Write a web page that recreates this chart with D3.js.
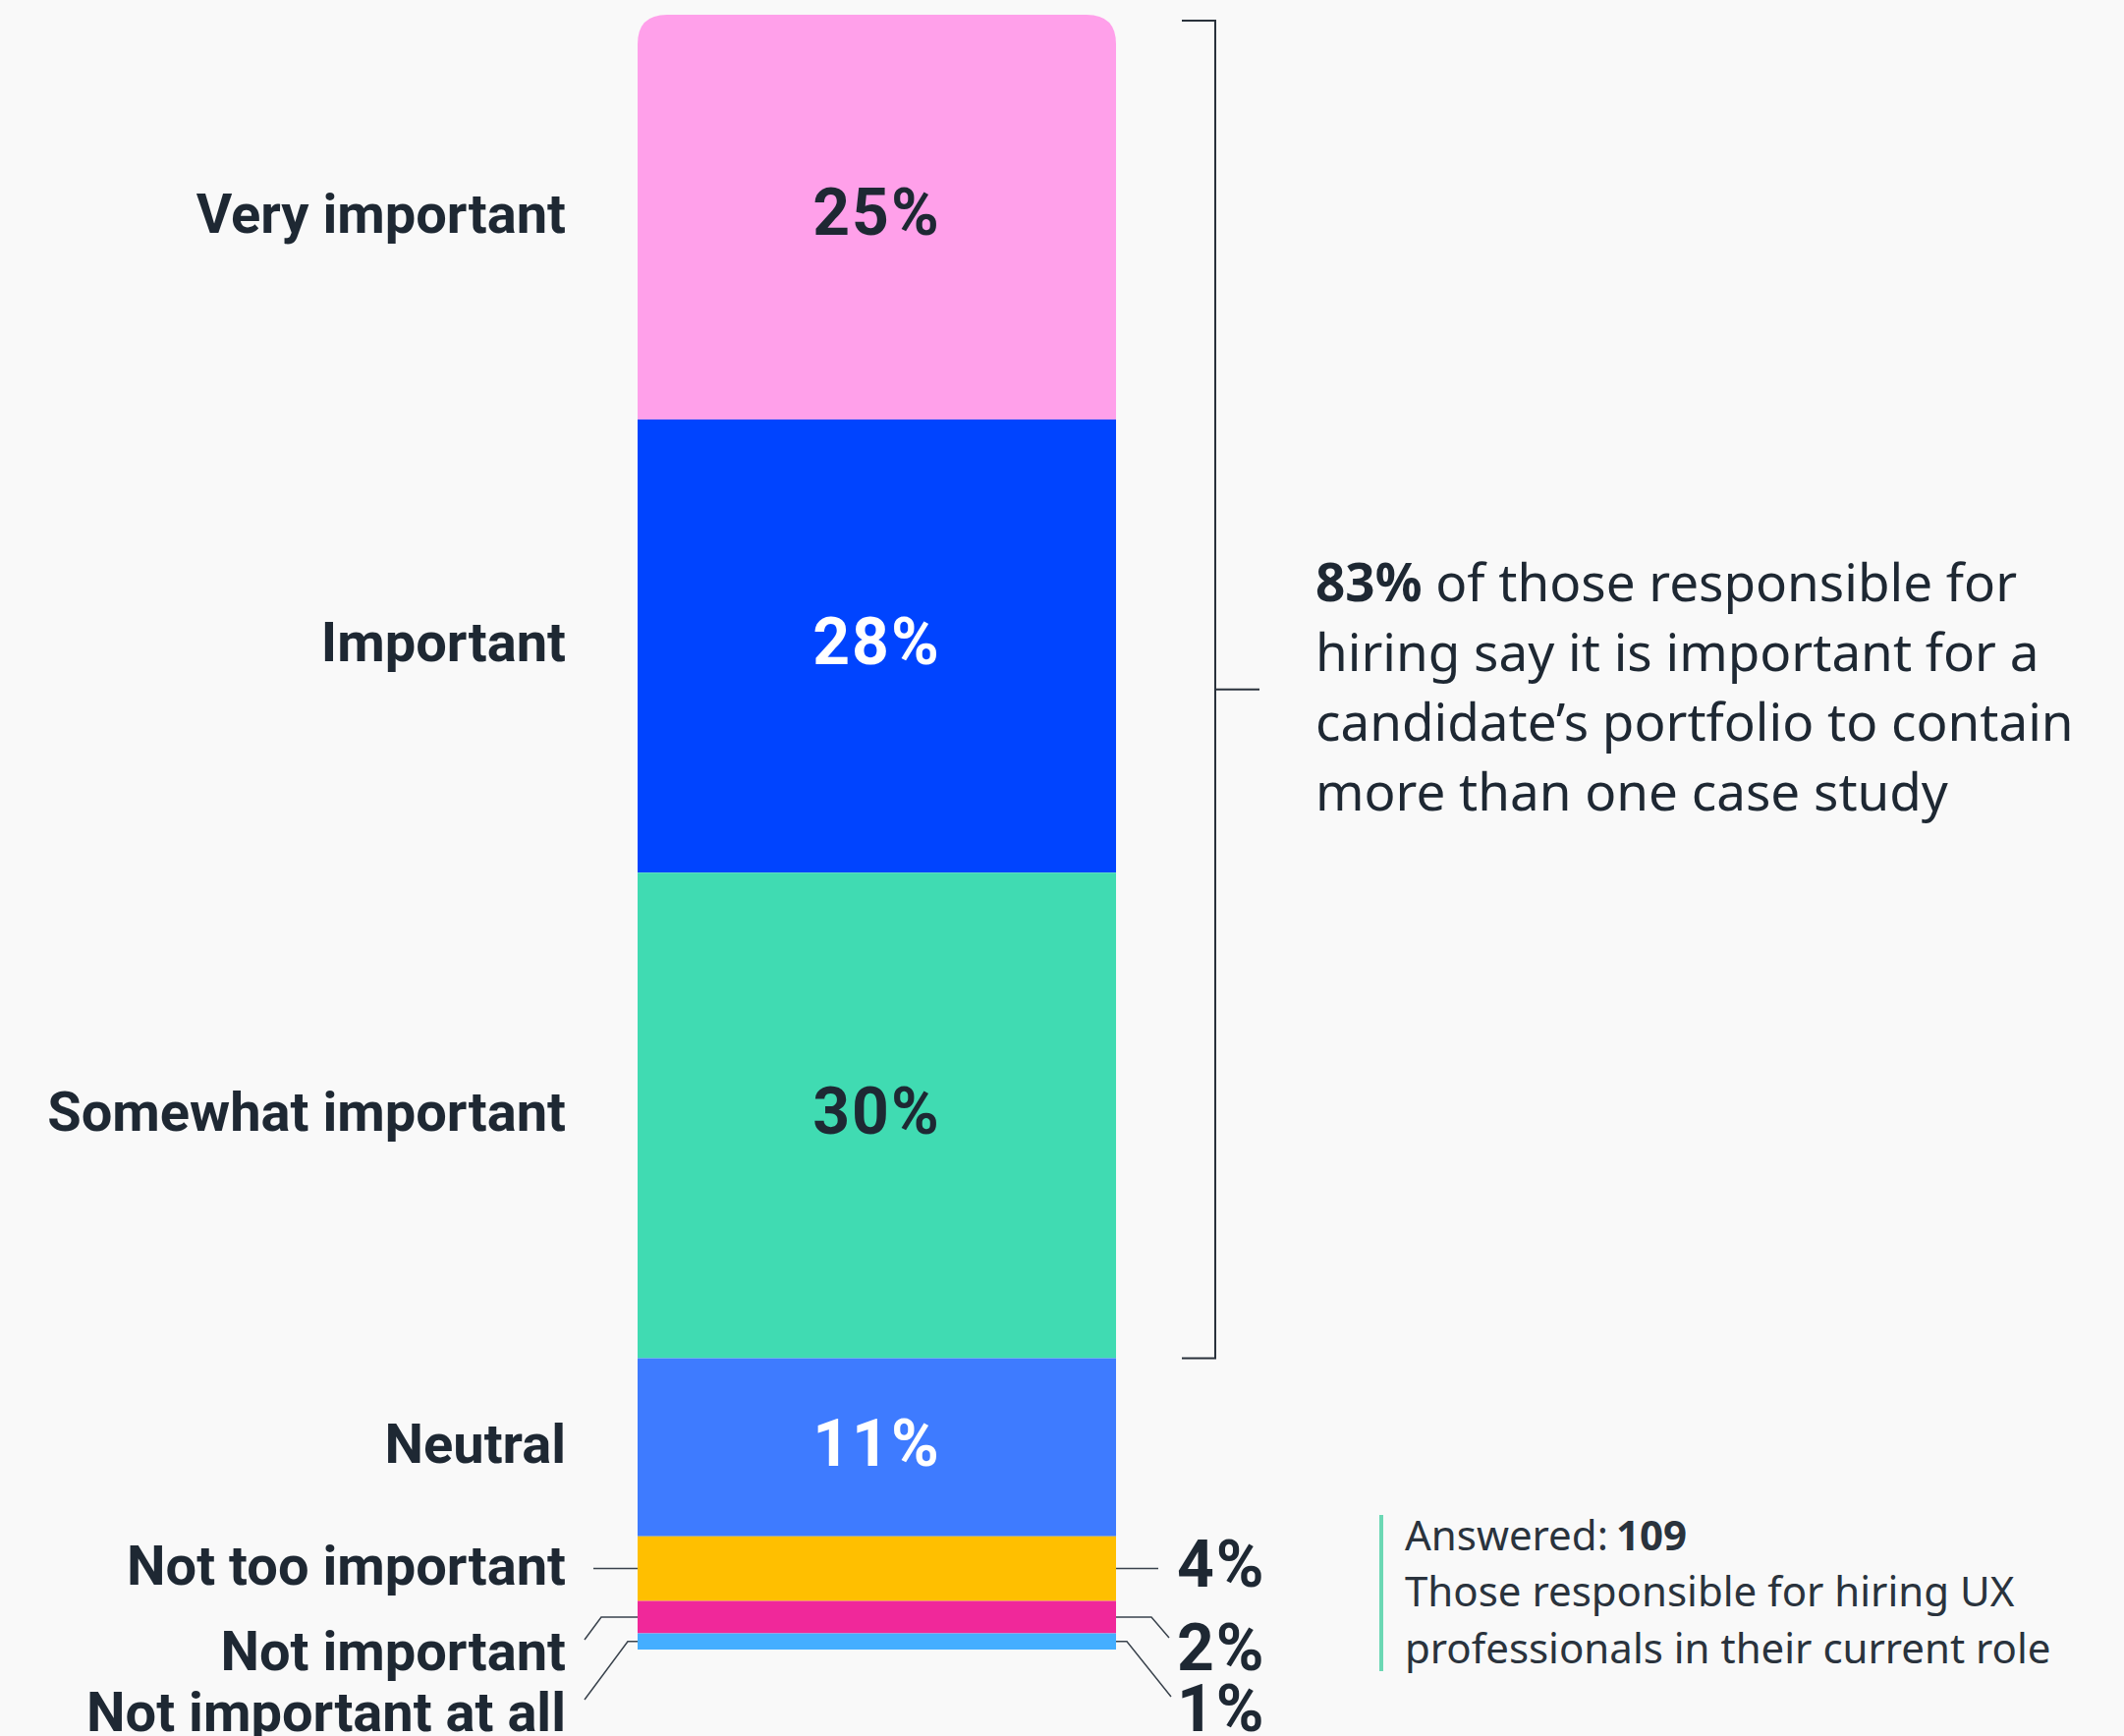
<!DOCTYPE html>
<html>
<head>
<meta charset="utf-8">
<script src="https://cdn.jsdelivr.net/npm/d3@7"></script>
<style>
  html, body { margin: 0; padding: 0; background: #F9F9F9; }
  svg { display: block; }
  text { font-family: Roboto, "Noto Sans", sans-serif; }
  .body { font-family: "Noto Sans", Roboto, sans-serif; }
</style>
</head>
<body>
<svg id="chart" width="2162" height="1767"></svg>
<script>
// Survey responses: importance of more than one case study in a portfolio
const categories = ["Very important", "Important", "Somewhat important", "Neutral",
                    "Not too important", "Not important", "Not important at all"];
const values = [25, 28, 30, 11, 4, 2, 1];
const valueLabels = ["25%", "28%", "30%", "11%", "4%", "2%", "1%"];
const colors = ["#FFA0EA", "#0044FF", "#40DBB2", "#3E7BFF", "#FFBF00", "#F0289A", "#44AEFF"];
const labelColors = ["#1E2833", "#FFFFFF", "#1E2833", "#FFFFFF", "#1E2833", "#1E2833", "#1E2833"];
const summaryShare = 83;
const summaryLines = [
  [{t: "83%", b: true}, {t: " of those responsible for", b: false}],
  [{t: "hiring say it is important for a", b: false}],
  [{t: "candidate\u2019s portfolio to contain", b: false}],
  [{t: "more than one case study", b: false}]
];
const answered = 109;
const baseLines = ["Those responsible for hiring UX", "professionals in their current role"];

const svg = d3.select("#chart");
const ink = "#1E2833";

const total = d3.sum(values);
const x = d3.scaleLinear().domain([0, 1]).range([649, 1136]);
const y = d3.scaleLinear().domain([0, total]).range([15, 1679]);

// stacked segments, first category on top
let acc = 0;
const segs = values.map((v, i) => {
  const s = {i, cat: categories[i], v, y0: acc, y1: acc + v};
  acc += v;
  return s;
});

const x0 = x(0), x1 = x(1), r = 30;
const g = svg.append("g");

g.selectAll("path.seg").data(segs).join("path")
  .attr("class", "seg")
  .attr("fill", d => colors[d.i])
  .attr("d", d => {
    const top = y(d.y0), bot = y(d.y1);
    if (d.i === 0) {
      return `M${x0},${bot} L${x0},${top + r} Q${x0},${top} ${x0 + r},${top}` +
             ` L${x1 - r},${top} Q${x1},${top} ${x1},${top + r} L${x1},${bot} Z`;
    }
    return `M${x0},${top} H${x1} V${bot} H${x0} Z`;
  });

// large segments: value inside, category at left
const big = segs.filter(d => d.v >= 10);
const small = segs.filter(d => d.v < 10);

g.selectAll("text.inval").data(big).join("text")
  .attr("class", "inval")
  .attr("x", (x0 + x1) / 2)
  .attr("y", d => y((d.y0 + d.y1) / 2))
  .attr("dy", "0.28em")
  .attr("text-anchor", "middle")
  .attr("font-size", 66)
  .attr("letter-spacing", 2)
  .attr("font-weight", 700)
  .attr("fill", d => labelColors[d.i])
  .text(d => valueLabels[d.i]);

g.selectAll("text.cat").data(big).join("text")
  .attr("class", "cat")
  .attr("x", 576)
  .attr("y", d => y((d.y0 + d.y1) / 2))
  .attr("dy", "0.28em")
  .attr("text-anchor", "end")
  .attr("font-size", 56)
  .attr("font-weight", 700)
  .attr("fill", ink)
  .text(d => d.cat);

// small segments: labels outside with leader lines
const leftLead = [
  {elbow: 604, end: [604, null], base: 1613},
  {elbow: 612, end: [595, 1669], base: 1700},
  {elbow: 639, end: [595, 1730], base: 1762}
];
const rightLead = [
  {elbow: 1179, end: [1179, null], base: 1615},
  {elbow: 1172, end: [1190, 1667], base: 1700},
  {elbow: 1147, end: [1192, 1727], base: 1762}
];

const line = d3.line();
small.forEach((d, k) => {
  const my = y((d.y0 + d.y1) / 2);
  const L = leftLead[k], R = rightLead[k];
  const lp = [[x0, my], [L.elbow, my]];
  if (L.end[1] !== null) lp.push(L.end);
  const rp = [[x1, my], [R.elbow, my]];
  if (R.end[1] !== null) rp.push(R.end);
  g.append("path").attr("d", line(lp)).attr("fill", "none")
    .attr("stroke", "#3A434D").attr("stroke-width", 1.5);
  g.append("path").attr("d", line(rp)).attr("fill", "none")
    .attr("stroke", "#3A434D").attr("stroke-width", 1.5);
  g.append("text")
    .attr("x", 576).attr("y", L.base)
    .attr("text-anchor", "end")
    .attr("font-size", 56).attr("font-weight", 700).attr("fill", ink)
    .text(d.cat);
  g.append("text")
    .attr("x", 1198).attr("y", R.base)
    .attr("text-anchor", "start")
    .attr("font-size", 66).attr("letter-spacing", 2)
    .attr("font-weight", 700).attr("fill", ink)
    .text(valueLabels[d.i]);
});

// bracket spanning the "important" responses
const bx = 1237;
const bTop = 21, bBot = y(summaryShare);
g.append("path")
  .attr("d", line([[1203, bTop], [bx, bTop], [bx, bBot], [1203, bBot]]))
  .attr("fill", "none").attr("stroke", "#2A323C").attr("stroke-width", 2);
g.append("path")
  .attr("d", line([[bx, (bTop + bBot) / 2], [1282, (bTop + bBot) / 2]]))
  .attr("fill", "none").attr("stroke", "#2A323C").attr("stroke-width", 2);

// summary statement
const summary = g.append("text")
  .attr("class", "body")
  .attr("font-size", 53).attr("fill", ink);
summaryLines.forEach((ln, li) => {
  ln.forEach((part, pi) => {
    const ts = summary.append("tspan")
      .attr("font-weight", part.b ? 700 : 400)
      .text(part.t);
    if (pi === 0) ts.attr("x", 1339).attr("y", 612 + li * 71);
  });
});

// base note
g.append("rect").attr("x", 1404).attr("y", 1542).attr("width", 4).attr("height", 159)
  .attr("fill", "#6CD8B4");
const note = g.append("text").attr("class", "body").attr("font-size", 42).attr("fill", "#2A333D");
note.append("tspan").attr("x", 1430).attr("y", 1578).text("Answered:");
note.append("tspan").attr("dx", 8).attr("font-weight", 700).text(answered);
baseLines.forEach((t, i) => {
  g.append("text").attr("class", "body").attr("x", 1430).attr("y", 1635 + i * 58)
    .attr("font-size", 42).attr("fill", "#2A333D").text(t);
});
</script>
</body>
</html>
